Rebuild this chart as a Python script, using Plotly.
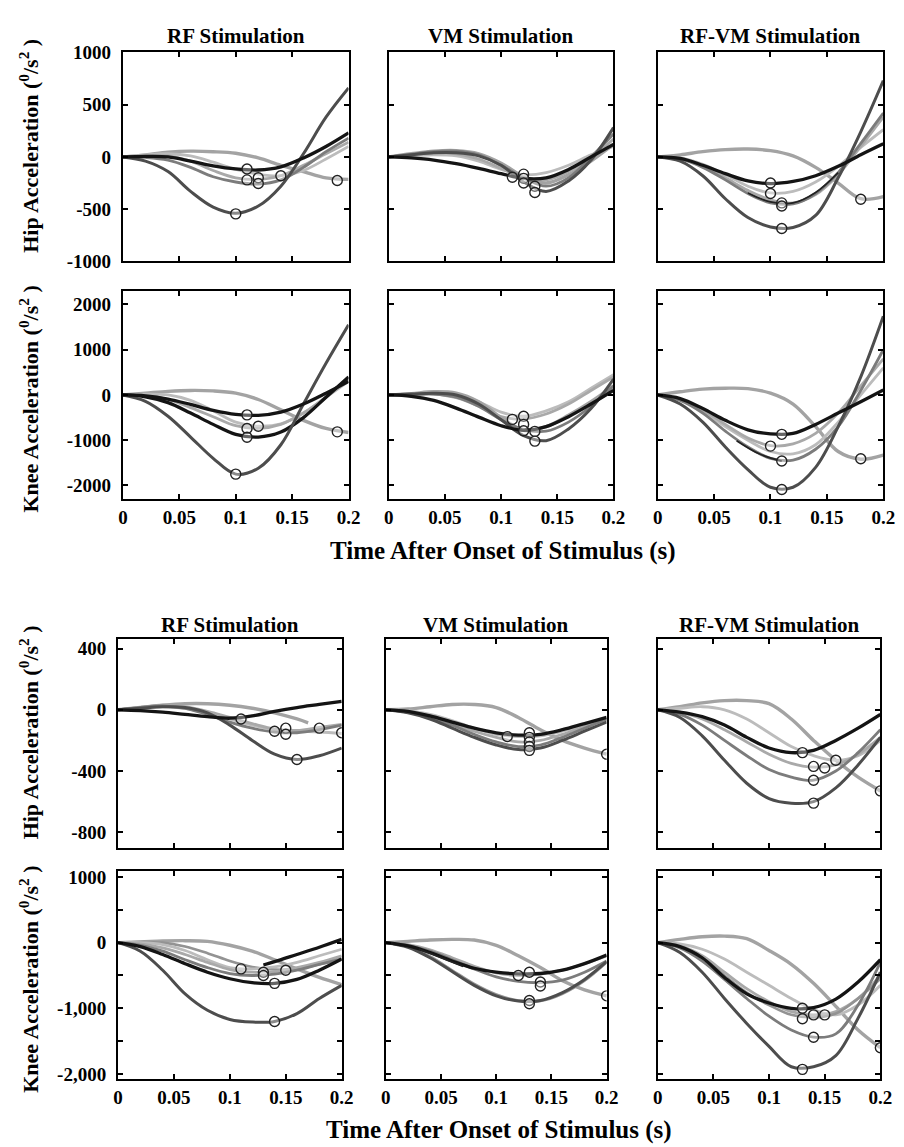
import plotly.graph_objects as go

W, H = 904, 1147

# ---------------- data ----------------
T = [0.0, 0.02, 0.04, 0.06, 0.08, 0.10, 0.12, 0.14, 0.16, 0.18, 0.20]
XTICKS = [0, 0.05, 0.1, 0.15, 0.2]
XTICKTEXT = ["0", "0.05", "0.1", "0.15", "0.2"]
TITLES = ["RF Stimulation", "VM Stimulation", "RF-VM Stimulation"]
XTITLE = "Time After Onset of Stimulus (s)"
YTITLE_HIP = "Hip Acceleration (<sup>0</sup>/s<sup>2</sup> )"
YTITLE_KNEE = "Knee Acceleration (<sup>0</sup>/s<sup>2</sup> )"

# Top group, hip, RF
A1_black = [0, 5, 0, -40, -85, -115, -125, -95, -10, 100, 230]
A1_deep = [0, -40, -140, -330, -480, -540, -470, -280, 30, 380, 660]
A1_bump = [0, 20, 45, 55, 50, 35, -10, -80, -140, -200, -215]
A1_g1 = [0, -5, -30, -100, -190, -240, -260, -220, -100, 50, 180]
A1_g2 = [0, 10, 10, -40, -130, -200, -215, -180, -80, 30, 140]
A1_g3 = [0, 20, 30, 10, -50, -120, -165, -180, -130, -20, 100]
A1_min_t = [0.10, 0.11, 0.11, 0.12, 0.12, 0.14, 0.19]
A1_min_v = [-545, -115, -220, -200, -255, -180, -225]

# Top group, hip, VM
A2_black = [0, -10, -30, -65, -110, -160, -205, -200, -120, 0, 120]
A2_deep = [0, 20, 40, 40, 10, -80, -240, -330, -230, -30, 280]
A2_g1 = [0, 30, 55, 60, 30, -60, -190, -250, -170, -40, 120]
A2_g2 = [0, 25, 50, 55, 20, -80, -200, -280, -200, 0, 220]
A2_g3 = [0, 20, 40, 30, -20, -110, -200, -220, -140, -10, 170]
A2_g4 = [0, 10, 20, 10, -40, -120, -170, -150, -80, 20, 100]
A2_min_t = [0.11, 0.12, 0.12, 0.12, 0.13, 0.13]
A2_min_v = [-195, -165, -205, -250, -280, -340]

# Top group, hip, RF-VM
A3_black = [0, -15, -80, -160, -230, -255, -235, -180, -90, 20, 125]
A3_deep = [0, -40, -180, -400, -580, -670, -675, -560, -200, 240, 730]
A3_bump = [0, 20, 50, 70, 75, 60, 10, -100, -250, -400, -380]
A3_g1 = [0, -20, -100, -220, -350, -440, -450, -350, -150, 130, 420]
A3_g2 = [0, -20, -90, -200, -320, -410, -440, -360, -170, 100, 380]
A3_g3 = [0, -10, -70, -170, -280, -345, -330, -240, -90, 90, 260]
A3_part_t = [0.08, 0.10, 0.12, 0.14, 0.16]
A3_part = [-345, -430, -440, -340, -150]
A3_min_t = [0.10, 0.10, 0.11, 0.11, 0.11, 0.18]
A3_min_v = [-250, -350, -440, -470, -685, -405]

# Top group, knee, RF
B1_black = [0, -20, -90, -210, -340, -430, -450, -380, -200, 40, 300]
B1_deep = [0, -140, -470, -930, -1400, -1750, -1620, -1100, -200, 700, 1550]
B1_bump = [0, 40, 80, 100, 90, 40, -100, -330, -560, -740, -830]
B1_g1 = [0, -40, -170, -400, -650, -870, -930, -820, -500, -50, 400]
B1_g2 = [0, -10, -100, -280, -480, -680, -740, -650, -400, -50, 350]
B1_g3 = [0, 20, 0, -120, -350, -600, -690, -640, -400, -50, 300]
B1_min_t = [0.10, 0.11, 0.11, 0.11, 0.12, 0.19]
B1_min_v = [-1750, -440, -740, -935, -690, -815]

# Top group, knee, VM
B2_black = [0, -30, -120, -290, -490, -680, -780, -700, -480, -200, 100]
B2_deep = [0, 20, 40, 0, -200, -550, -900, -1010, -750, -300, 350]
B2_g1 = [0, 30, 70, 40, -150, -500, -780, -700, -450, -150, 200]
B2_g2 = [0, 10, 20, -50, -250, -550, -760, -800, -600, -250, 200]
B2_g3 = [0, 20, 30, 0, -150, -380, -470, -350, -150, 150, 450]
B2_g4 = [0, 20, 20, -60, -250, -480, -530, -420, -200, 100, 400]
B2_min_t = [0.11, 0.12, 0.12, 0.12, 0.13, 0.13]
B2_min_v = [-540, -470, -650, -790, -805, -1020]

# Top group, knee, RF-VM
B3_black = [0, -80, -300, -560, -770, -860, -850, -650, -400, -150, 110]
B3_deep = [0, -200, -600, -1150, -1650, -2040, -2040, -1600, -700, 400, 1740]
B3_bump = [0, 70, 130, 150, 140, 40, -200, -700, -1250, -1420, -1330]
B3_g1 = [0, -120, -400, -800, -1150, -1400, -1440, -1200, -700, 100, 1000]
B3_g2 = [0, -100, -330, -650, -950, -1120, -1080, -850, -400, 200, 800]
B3_g3 = [0, -100, -350, -700, -1000, -1250, -1300, -1100, -600, 0, 600]
B3_part_t = [0.07, 0.09, 0.11]
B3_part = [-1010, -1300, -1460]
B3_min_t = [0.10, 0.11, 0.11, 0.11, 0.18]
B3_min_v = [-1130, -870, -1460, -2090, -1410]

# Bottom group, hip, RF
C1_black = [0, -5, -15, -30, -45, -55, -40, -10, 15, 35, 55]
C1_deep = [0, 10, 20, 15, -20, -100, -200, -290, -325, -300, -250]
C1_bump_t = [0, 0.02, 0.04, 0.06, 0.08, 0.10, 0.12, 0.14, 0.16, 0.17]
C1_bump = [0, 15, 30, 40, 40, 30, 10, -20, -60, -85]
C1_g1 = [0, 15, 25, 10, -30, -80, -120, -145, -150, -130, -100]
C1_g2 = [0, 15, 30, 20, -10, -50, -90, -125, -135, -115, -95]
C1_g3 = [0, 10, 20, 10, -20, -60, -100, -130, -140, -145, -155]
C1_min_t = [0.11, 0.14, 0.15, 0.15, 0.16, 0.18, 0.20]
C1_min_v = [-60, -140, -120, -160, -325, -120, -150]

# Bottom group, hip, VM
C2_black = [0, -10, -40, -80, -120, -150, -165, -160, -130, -90, -50]
C2_bump = [0, 5, 20, 35, 35, 15, -50, -130, -200, -250, -290]
C2_deep = [0, -20, -60, -120, -180, -230, -260, -250, -200, -140, -80]
C2_g1 = [0, -15, -50, -100, -160, -210, -240, -230, -180, -120, -60]
C2_g2 = [0, -10, -40, -90, -140, -180, -210, -200, -160, -110, -60]
C2_g3 = [0, -5, -30, -70, -120, -160, -175, -170, -140, -100, -70]
C2_min_t = [0.11, 0.13, 0.13, 0.13, 0.13, 0.13, 0.20]
C2_min_v = [-175, -150, -180, -210, -240, -265, -290]

# Bottom group, hip, RF-VM
C3_black = [0, -15, -45, -100, -180, -250, -280, -265, -200, -120, -30]
C3_deep = [0, -50, -170, -330, -480, -580, -610, -600, -510, -360, -180]
C3_bump = [0, 20, 45, 60, 60, 40, -60, -200, -330, -440, -530]
C3_g1 = [0, -30, -100, -200, -300, -390, -440, -460, -400, -280, -130]
C3_g2 = [0, -15, -60, -130, -210, -290, -350, -375, -360, -290, -180]
C3_g3 = [0, 10, 20, 0, -60, -150, -240, -300, -330, -300, -200]
C3_min_t = [0.13, 0.14, 0.14, 0.14, 0.15, 0.16, 0.20]
C3_min_v = [-280, -610, -460, -370, -380, -330, -530]

# Bottom group, knee, RF
D1_black = [0, -60, -180, -320, -450, -550, -610, -620, -560, -420, -250]
D1_deep = [0, -130, -420, -780, -1030, -1170, -1210, -1200, -1080, -850, -650]
D1_bump = [0, 10, 25, 30, 20, -40, -130, -260, -400, -530, -640]
D1_g1 = [0, -40, -130, -260, -380, -470, -500, -480, -420, -330, -250]
D1_g2 = [0, -20, -80, -180, -300, -410, -450, -440, -380, -300, -200]
D1_g3 = [0, 0, -30, -120, -260, -380, -400, -370, -300, -200, -100]
D1_g4 = [0, 10, 0, -60, -160, -280, -370, -410, -400, -330, -250]
D1_part_t = [0.13, 0.14, 0.16, 0.18, 0.20]
D1_part = [-340, -290, -180, -70, 50]
D1_min_t = [0.11, 0.13, 0.13, 0.14, 0.14, 0.15]
D1_min_v = [-400, -450, -500, -620, -1200, -420]

# Bottom group, knee, VM
D2_black = [0, -50, -150, -280, -390, -450, -475, -470, -420, -320, -190]
D2_deep = [0, -70, -230, -440, -650, -810, -890, -880, -760, -560, -290]
D2_deep2 = [0, -60, -210, -420, -630, -790, -880, -890, -780, -580, -300]
D2_bump = [0, 20, 40, 50, 40, -40, -200, -380, -580, -720, -810]
D2_g1 = [0, -40, -130, -260, -400, -520, -590, -610, -570, -450, -280]
D2_g2 = [0, -30, -110, -230, -360, -460, -500, -480, -420, -320, -200]
D2_part_t = [0.03, 0.05, 0.07]
D2_part = [-100, -230, -360]
D2_min_t = [0.12, 0.13, 0.14, 0.14, 0.13, 0.13, 0.20]
D2_min_v = [-500, -450, -600, -660, -880, -930, -810]

# Bottom group, knee, RF-VM
D3_black = [0, -60, -230, -530, -780, -920, -1000, -990, -860, -600, -260]
D3_deep = [0, -150, -450, -850, -1230, -1580, -1890, -1890, -1720, -1150, -450]
D3_bump = [0, 50, 90, 100, 60, -120, -330, -620, -970, -1330, -1600]
D3_g1 = [0, -80, -280, -560, -850, -1120, -1330, -1440, -1390, -950, -300]
D3_g2 = [0, -60, -230, -500, -760, -950, -1100, -1140, -1080, -850, -550]
D3_g3 = [0, -50, -200, -450, -700, -900, -1050, -1100, -1050, -850, -500]
D3_g4 = [0, -20, -100, -250, -450, -650, -850, -1020, -1100, -950, -650]
D3_min_t = [0.13, 0.13, 0.14, 0.14, 0.15, 0.13, 0.20]
D3_min_v = [-1000, -1160, -1100, -1440, -1100, -1930, -1600]

# ---------------- styles ----------------
STY = {
    "black": dict(color="#141414", width=3.3),
    "deep": dict(color="#4d4d4d", width=3.0),
    "bump": dict(color="#a3a3a3", width=3.4),
    "g1": dict(color="#7c7c7c", width=2.8),
    "g2": dict(color="#a9a9a9", width=2.8),
    "g3": dict(color="#bcbcbc", width=2.8),
    "g4": dict(color="#939393", width=2.6),
    "part": dict(color="#222222", width=1.8),
}

PANELS = [
    ([(T, A1_bump, "bump"), (T, A1_g3, "g3"), (T, A1_g2, "g2"), (T, A1_g1, "g1"),
      (T, A1_deep, "deep"), (T, A1_black, "black")], A1_min_t, A1_min_v),
    ([(T, A2_g4, "g3"), (T, A2_g3, "g2"), (T, A2_g1, "bump"), (T, A2_g2, "g1"),
      (T, A2_deep, "deep"), (T, A2_black, "black")], A2_min_t, A2_min_v),
    ([(T, A3_bump, "bump"), (T, A3_g3, "g3"), (T, A3_g2, "g2"), (T, A3_g1, "g1"),
      (T, A3_deep, "deep"), (T, A3_black, "black"), (A3_part_t, A3_part, "part")], A3_min_t, A3_min_v),
    ([(T, B1_bump, "bump"), (T, B1_g3, "g3"), (T, B1_g2, "g2"), (T, B1_g1, "black"),
      (T, B1_deep, "deep"), (T, B1_black, "black")], B1_min_t, B1_min_v),
    ([(T, B2_g3, "g3"), (T, B2_g4, "g2"), (T, B2_g1, "bump"), (T, B2_g2, "g1"),
      (T, B2_deep, "deep"), (T, B2_black, "black")], B2_min_t, B2_min_v),
    ([(T, B3_bump, "bump"), (T, B3_g3, "g3"), (T, B3_g2, "g2"), (T, B3_g1, "g1"),
      (T, B3_deep, "deep"), (T, B3_black, "black"), (B3_part_t, B3_part, "part")], B3_min_t, B3_min_v),
    ([(C1_bump_t, C1_bump, "bump"), (T, C1_g3, "g3"), (T, C1_g2, "g2"), (T, C1_g1, "g1"),
      (T, C1_deep, "deep"), (T, C1_black, "black")], C1_min_t, C1_min_v),
    ([(T, C2_bump, "bump"), (T, C2_g3, "g3"), (T, C2_g2, "g2"), (T, C2_g1, "g1"),
      (T, C2_deep, "deep"), (T, C2_black, "black")], C2_min_t, C2_min_v),
    ([(T, C3_bump, "bump"), (T, C3_g3, "g3"), (T, C3_g2, "g2"), (T, C3_g1, "g1"),
      (T, C3_deep, "deep"), (T, C3_black, "black")], C3_min_t, C3_min_v),
    ([(T, D1_bump, "bump"), (T, D1_g4, "g4"), (T, D1_g3, "g3"), (T, D1_g2, "g2"), (T, D1_g1, "g1"),
      (T, D1_deep, "deep"), (T, D1_black, "black"), (D1_part_t, D1_part, "black")], D1_min_t, D1_min_v),
    ([(T, D2_bump, "bump"), (T, D2_g2, "g2"), (T, D2_g1, "g1"), (T, D2_deep2, "g4"),
      (T, D2_deep, "deep"), (T, D2_black, "black"), (D2_part_t, D2_part, "part")], D2_min_t, D2_min_v),
    ([(T, D3_bump, "bump"), (T, D3_g4, "g3"), (T, D3_g3, "g2"), (T, D3_g2, "g4"), (T, D3_g1, "g1"),
      (T, D3_deep, "deep"), (T, D3_black, "black")], D3_min_t, D3_min_v),
]

ROW_Y = [
    dict(range=[-1000, 1000], tickvals=[-1000, -500, 0, 500, 1000],
         ticktext=["-1000", "-500", "0", "500", "1000"], minor=None),
    dict(range=[-2300, 2300], tickvals=[-2000, -1000, 0, 1000, 2000],
         ticktext=["-2000", "-1000", "0", "1000", "2000"], minor=None),
    dict(range=[-900, 460], tickvals=[-800, -400, 0, 400],
         ticktext=["-800", "-400", "0", "400"], minor=None),
    dict(range=[-2080, 1090], tickvals=[-2000, -1000, 0, 1000],
         ticktext=["-2,000", "-1,000", "0", "1000"], minor=500),
]

# layout geometry (pixels)
COLS_TOP = [(112, 342), (383, 612), (657, 887)]
COLS_BOT = [(107, 335), (380, 605), (657, 884)]
ROWS = [(35, 248), (278, 490), (633, 845), (869, 1081)]

FONT = "Liberation Serif"
fig = go.Figure()
layout = {}

for k, (curves, mt, mv) in enumerate(PANELS):
    idx = k + 1
    r, c = divmod(k, 3)
    xs = "x" if idx == 1 else f"x{idx}"
    ys = "y" if idx == 1 else f"y{idx}"
    for tt, vv, st in curves:
        fig.add_trace(go.Scatter(x=tt, y=vv, mode="lines", xaxis=xs, yaxis=ys,
                                 line=dict(shape="spline", smoothing=1.0, **STY[st]),
                                 showlegend=False, hoverinfo="skip"))
    fig.add_trace(go.Scatter(x=mt, y=mv, mode="markers", xaxis=xs, yaxis=ys,
                             marker=dict(symbol="circle", size=10, color="rgba(255,255,255,0.35)",
                                         line=dict(color="#222", width=1.4)),
                             showlegend=False, hoverinfo="skip"))
    cols = COLS_TOP if r < 2 else COLS_BOT
    x0, x1 = cols[c]
    top, bot = ROWS[r]
    ax_common = dict(showline=True, linewidth=2, linecolor="black", mirror="ticks",
                     ticks="inside", ticklen=5, tickwidth=1.5, tickcolor="black",
                     showgrid=False, zeroline=False,
                     tickfont=dict(family=FONT, size=19, color="black", weight="bold"))
    xkey = "xaxis" if idx == 1 else f"xaxis{idx}"
    ykey = "yaxis" if idx == 1 else f"yaxis{idx}"
    layout[xkey] = dict(domain=[x0 / W, x1 / W], anchor=ys, range=[0, 0.2],
                        tickvals=XTICKS, ticktext=XTICKTEXT,
                        showticklabels=(r in (1, 3)), **ax_common)
    ydict = dict(domain=[1 - bot / H, 1 - top / H], anchor=xs,
                 range=ROW_Y[r]["range"], tickvals=ROW_Y[r]["tickvals"],
                 ticktext=ROW_Y[r]["ticktext"], showticklabels=(c == 0),
                 ticklabelstandoff=6, **ax_common)
    if ROW_Y[r]["minor"]:
        ydict["minor"] = dict(dtick=ROW_Y[r]["minor"], tick0=0, ticks="inside",
                              ticklen=5, tickwidth=1.5, tickcolor="black", showgrid=False)
    layout[ykey] = ydict

ann = []
bold = dict(family=FONT, color="black", weight="bold")
for g, (ty, cols) in enumerate([(18, COLS_TOP), (618, COLS_BOT)]):
    for c, (x0, x1) in enumerate(cols):
        ann.append(dict(text=TITLES[c], x=(x0 + x1) / 2 / W, y=1 - ty / H, xref="paper", yref="paper",
                        xanchor="center", yanchor="middle", showarrow=False, font=dict(size=21, **bold)))
for xt_y, cols in [(543, COLS_TOP), (1133, COLS_BOT)]:
    ann.append(dict(text=XTITLE, x=(cols[0][0] + cols[2][1]) / 2 / W, y=1 - xt_y / H,
                    xref="paper", yref="paper", xanchor="center", yanchor="middle",
                    showarrow=False, font=dict(size=25, **bold)))
for r, (top, bot) in enumerate(ROWS):
    txt = YTITLE_HIP if r in (0, 2) else YTITLE_KNEE
    cy = (top + bot) / 2 + (-11 if r in (0, 2) else 4)
    ann.append(dict(text=txt, x=16 / W, y=1 - cy / H, xref="paper", yref="paper",
                    xanchor="center", yanchor="middle", textangle=-90, showarrow=False,
                    font=dict(size=22, **bold)))

fig.update_layout(width=W, height=H, margin=dict(l=0, r=0, t=0, b=0),
                  paper_bgcolor="white", plot_bgcolor="white", annotations=ann, **layout)
fig.write_html("out.html")
